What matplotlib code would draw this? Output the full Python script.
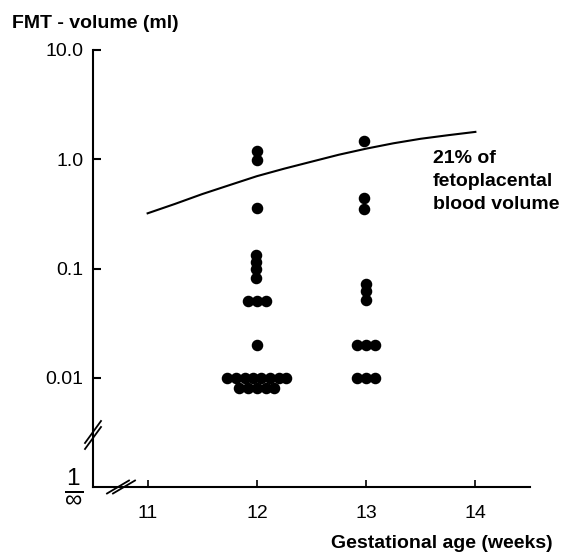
import matplotlib
matplotlib.use('Agg')
import matplotlib.pyplot as plt
from matplotlib.lines import Line2D

plt.rcParams['font.family'] = ['Liberation Sans', 'DejaVu Sans']
plt.rcParams['mathtext.fontset'] = 'custom'
plt.rcParams['mathtext.rm'] = 'Liberation Sans'

# 21% of fetoplacental blood volume curve
curve_weeks = [11.0, 11.25, 11.5, 11.75, 12.0, 12.25, 12.5, 12.75, 13.0, 13.25, 13.5, 13.75, 14.0]
curve_vol = [0.32, 0.39, 0.48, 0.58, 0.70, 0.82, 0.95, 1.10, 1.25, 1.40, 1.54, 1.66, 1.78]

# FMT volumes at 12 weeks (x slightly spread where dots touch)
wk12_x = [12.0, 12.0, 12.0,
          11.99, 11.99, 11.99, 11.99,
          11.92, 12.0, 12.08,
          12.0,
          11.73, 11.81, 11.89, 11.96, 12.04, 12.12, 12.2, 12.27,
          11.84, 11.92, 12.0, 12.08, 12.16]
wk12_y = [1.18, 0.98, 0.36,
          0.134, 0.115, 0.099, 0.082,
          0.05, 0.05, 0.05,
          0.02,
          0.01, 0.01, 0.01, 0.01, 0.01, 0.01, 0.01, 0.01,
          0.0081, 0.0081, 0.0081, 0.0081, 0.0081]

# FMT volumes at 13 weeks
wk13_x = [12.98, 12.98, 12.98,
          13.0, 13.0, 13.0,
          12.92, 13.0, 13.08,
          12.92, 13.0, 13.08]
wk13_y = [1.47, 0.44, 0.35,
          0.072, 0.062, 0.051,
          0.02, 0.02, 0.02,
          0.01, 0.01, 0.01]

x_ticks = [11, 12, 13, 14]
y_ticks = [0.001, 0.01, 0.1, 1.0, 10.0]
y_ticklabels = [r'$\frac{1}{\infty}$', '0.01', '0.1', '1.0', '10.0']

fig = plt.figure(figsize=(5.66, 5.60), dpi=100)
ax = fig.add_axes([93 / 566, 1 - 487 / 560, 437 / 566, 437 / 560])

ax.plot(curve_weeks, curve_vol, color='black', lw=1.5)
ax.plot(wk12_x, wk12_y, 'o', color='black', ms=7.3, mec='black')
ax.plot(wk13_x, wk13_y, 'o', color='black', ms=7.3, mec='black')

ax.set_yscale('log')
ax.set_xlim(10.5, 14.5)
ax.set_ylim(0.001, 10)
ax.set_xticks(x_ticks)
ax.set_xticklabels([str(t) for t in x_ticks])
ax.set_yticks(y_ticks)
ax.set_yticklabels(y_ticklabels)
ax.minorticks_off()

for s in ['top', 'right']:
    ax.spines[s].set_visible(False)
for s in ['left', 'bottom']:
    ax.spines[s].set_linewidth(1.5)

ax.tick_params(axis='y', direction='in', length=6, width=1.5, pad=7, labelsize=14)
ax.tick_params(axis='x', direction='in', length=5, width=1.2, pad=13, labelsize=14)
# no tick mark at the "1/inf" origin, bigger fraction label
tick0 = ax.yaxis.get_major_ticks()[0]
tick0.tick1line.set_visible(False)
tick0.label1.set_fontsize(25)
tick0.label1.set_va('center')

# axis break marks
w, h = 437.0, 437.0
for off in (-3, 3):
    yc = 52 + off
    ax.add_line(Line2D([-8 / w, 8 / w], [(yc - 11) / h, (yc + 11) / h],
                       transform=ax.transAxes, color='black', lw=1.3, clip_on=False))
    xc = 28 + off
    ax.add_line(Line2D([(xc - 11) / w, (xc + 11) / w], [-6.5 / h, 6.5 / h],
                       transform=ax.transAxes, color='black', lw=1.3, clip_on=False))

ax.text(13.61, 1.22, '21% of\nfetoplacental\nblood volume', fontsize=14,
        fontweight='bold', ha='left', va='top', linespacing=1.45)

fig.text(12 / 566, 1 - 24 / 560, 'FMT - volume (ml)', fontsize=14,
         fontweight='bold', ha='left', va='center')
fig.text(553 / 566, 1 - 543 / 560, 'Gestational age (weeks)', fontsize=14,
         fontweight='bold', ha='right', va='center')

plt.savefig('out.png', dpi=100)
